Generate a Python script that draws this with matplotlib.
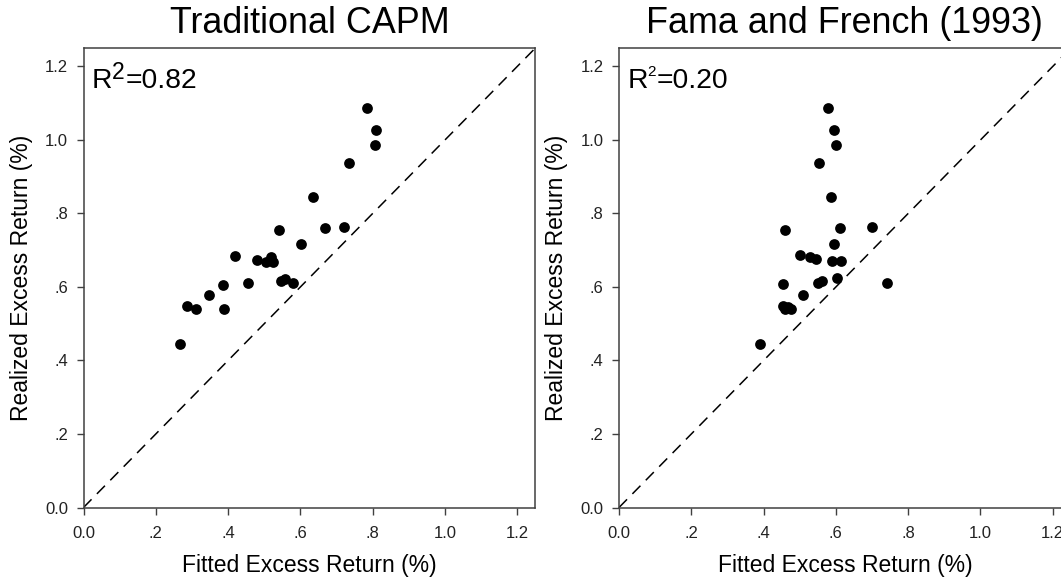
import matplotlib
matplotlib.use("Agg")
import matplotlib.pyplot as plt
import numpy as np

plt.rcParams['font.family'] = ['Liberation Sans', 'DejaVu Sans']

# ---- data ----
capm_fitted = [0.784, 0.809, 0.806, 0.734, 0.634, 0.667, 0.720, 0.540, 0.603, 0.418,
               0.518, 0.479, 0.504, 0.525, 0.558, 0.547, 0.580, 0.456, 0.386, 0.346,
               0.285, 0.310, 0.388, 0.266]
capm_realized = [1.086, 1.026, 0.985, 0.938, 0.845, 0.761, 0.762, 0.754, 0.716, 0.684,
                 0.681, 0.674, 0.669, 0.667, 0.623, 0.616, 0.611, 0.610, 0.606, 0.577,
                 0.549, 0.540, 0.540, 0.444]

ff_fitted = [0.577, 0.594, 0.601, 0.554, 0.587, 0.699, 0.611, 0.459, 0.596, 0.500,
             0.529, 0.544, 0.590, 0.613, 0.603, 0.563, 0.550, 0.742, 0.455, 0.510,
             0.455, 0.468, 0.458, 0.476, 0.391]
ff_realized = [1.087, 1.028, 0.986, 0.938, 0.846, 0.762, 0.761, 0.756, 0.716, 0.686,
               0.682, 0.675, 0.670, 0.670, 0.625, 0.616, 0.611, 0.611, 0.607, 0.578,
               0.549, 0.546, 0.540, 0.541, 0.445]

titles = ["Traditional CAPM", "Fama and French (1993)"]
r2_values = ["0.82", "0.20"]
tick_values = [0.0, 0.2, 0.4, 0.6, 0.8, 1.0, 1.2]
tick_labels = ["0.0", ".2", ".4", ".6", ".8", "1.0", "1.2"]
x_label = "Fitted Excess Return (%)"
y_label = "Realized Excess Return (%)"

fig = plt.figure(figsize=(10.61, 5.86), dpi=100)
W, H = 1061, 586
ax_w, ax_h = 451.8 / W, 459.4 / H
bottom = (586 - 507.5) / H
axes = [fig.add_axes([83.5 / W, bottom, ax_w, ax_h]),
        fig.add_axes([619.0 / W, bottom, ax_w, ax_h])]

spine_col = '#404040'
data = [(capm_fitted, capm_realized), (ff_fitted, ff_realized)]
r_fs = 20.3
sup_cfg = [(16.5, 7.3), (11, 11.0)]  # superscript font size, vertical offset (pt)

for ax, (fx, ry), title, r2, (sup_fs, sup_off) in zip(axes, data, titles, r2_values, sup_cfg):
    ax.set_xlim(0, 1.25)
    ax.set_ylim(0, 1.25)
    ax.plot([0, 1.25], [0, 1.25], color='black', lw=1.1, linestyle=(0, (7.5, 5)), zorder=1)
    ax.scatter(fx, ry, s=60, color='black', linewidths=0, zorder=3)
    ax.set_xticks(tick_values)
    ax.set_xticklabels(tick_labels)
    ax.set_yticks(tick_values)
    ax.set_yticklabels(tick_labels)
    ax.tick_params(axis='both', direction='out', length=5, width=1, color=spine_col,
                   labelsize=12, labelcolor='#222222')
    ax.tick_params(axis='x', pad=8)
    ax.tick_params(axis='y', pad=6)
    for sp in ax.spines.values():
        sp.set_color(spine_col)
        sp.set_linewidth(1.1)
    ax.set_xlabel(x_label, fontsize=16.5, labelpad=10)
    ax.set_ylabel(y_label, fontsize=16.5, labelpad=9)
    ax.set_title(title, fontsize=25.8, pad=11)

    tR = ax.text(0.018, 0.900, "R", transform=ax.transAxes, fontsize=r_fs,
                 va='bottom', ha='left')
    t2 = ax.annotate("2", xy=(1, 0), xycoords=tR, xytext=(0, sup_off),
                     textcoords='offset points', fontsize=sup_fs, va='bottom', ha='left')
    ax.annotate("=" + r2, xy=(1, 0), xycoords=(t2, tR), xytext=(0.5, 0),
                textcoords='offset points', fontsize=r_fs, va='bottom', ha='left')

fig.savefig("out.png", dpi=100)
